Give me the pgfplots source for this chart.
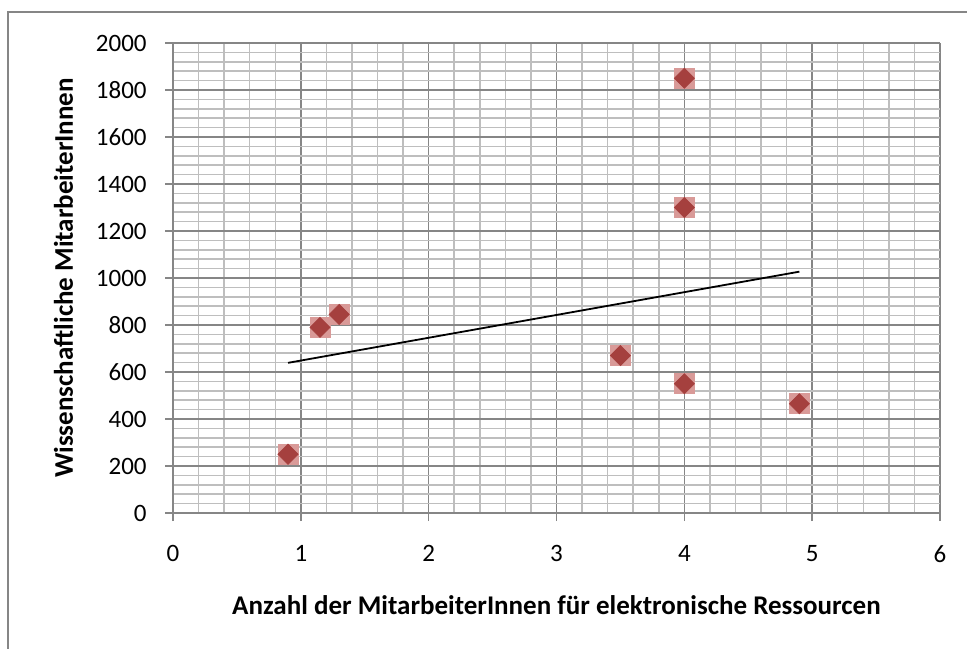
\documentclass[border=0pt]{standalone}
\usepackage{pgfplots}
\pgfplotsset{compat=1.18}
\usepackage{fontspec}
\setmainfont{Carlito}
\definecolor{majgrid}{HTML}{868686}
\definecolor{mingrid}{HTML}{BEBEBE}
\definecolor{dia}{HTML}{A5403E}
\definecolor{sq}{HTML}{D99A98}
\begin{document}
\begin{tikzpicture}
\useasboundingbox (-86.5pt,-67.5pt) rectangle (397pt,256.5pt);
\draw[color=majgrid,line width=0.9pt] (-82.5pt,-70pt) -- (-82.5pt,250.5pt) -- (400pt,250.5pt);
\begin{axis}[
  at={(0,0)}, anchor=south west,
  scale only axis,
  width=383.5pt, height=235pt,
  xmin=0, xmax=6, ymin=0, ymax=2000,
  axis lines=left,
  axis line style={color=majgrid,line width=0.8pt,-},
  xtick={0,1,...,6},
  ytick={0,200,...,2000},
  minor x tick num=4,
  minor y tick num=4,
  grid=both,
  major grid style={color=majgrid,line width=0.7pt},
  minor grid style={color=mingrid,line width=0.75pt},
  tick align=outside,
  major tick length=4pt,
  minor tick length=0pt,
  tick style={color=majgrid,line width=0.8pt},
  font=\fontsize{12.5}{15}\selectfont,
  /pgf/number format/assume math mode=true,
  /pgf/number format/1000 sep={},
  yticklabel style={anchor=east,inner sep=0pt,xshift=-9pt},
  xticklabel style={anchor=north,inner sep=0pt,yshift=-12pt},
  xlabel={\fontsize{13.5}{16}\selectfont\bfseries Anzahl der MitarbeiterInnen für elektronische Ressourcen},
  ylabel={\fontsize{13.5}{16}\selectfont\bfseries Wissenschaftliche MitarbeiterInnen},
  xlabel style={at={(axis description cs:0.5,-0.217)},anchor=base,inner sep=0pt},
  ylabel style={at={(axis description cs:-0.1304,0.5)},anchor=base,inner sep=0pt,rotate=0},
  clip=false,
]
\addplot[only marks, color=sq, mark=square*, mark size=5pt, mark options={solid,fill=sq,draw=sq}] coordinates {
(0.9,250) (1.15,790) (1.3,845) (3.5,670) (4,550) (4,1300) (4,1850) (4.9,465)
};
\addplot[only marks, color=dia, mark=square*, mark size=3.54pt, mark options={solid,fill=dia,draw=dia,rotate=45}] coordinates {
(0.9,250) (1.15,790) (1.3,845) (3.5,670) (4,550) (4,1300) (4,1850) (4.9,465)
};
\addplot[black, line width=0.9pt, mark=none] coordinates {(0.9,639) (4.9,1027)};
\end{axis}
\end{tikzpicture}
\end{document}
